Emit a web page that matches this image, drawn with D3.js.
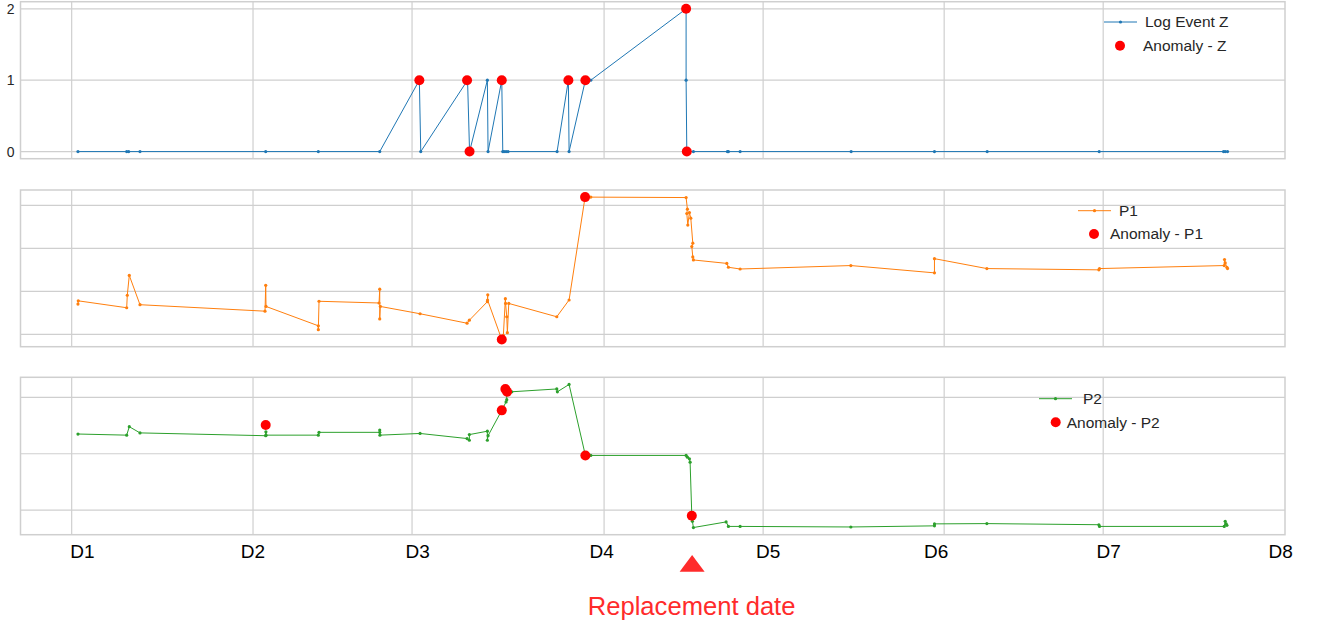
<!DOCTYPE html>
<html>
<head>
<meta charset="utf-8">
<script src="https://cdn.jsdelivr.net/npm/d3@7"></script>
<style>
  body { margin: 0; background: #fff; }
  text { font-family: "Liberation Sans", Arial, sans-serif; }
</style>
</head>
<body>
<div id="chart"></div>
<script>
// x values are days from the start of the record
const gridDays = [10.34, 46.6, 78.4, 116.8, 148.6, 184.8, 216.6];
const dayLabels = ["D1", "D2", "D3", "D4", "D5", "D6", "D7", "D8"];
const dayLabelDays = [12.4, 46.5, 79.4, 116.2, 149.5, 183.1, 217.6, 252];
const replacementDay = 134.4;

// Log Event Z
const zDays = [11.6, 21.34, 21.74, 24, 49.14, 59.66, 71.94, 79.86, 80.14, 89.5, 89.9, 93.46, 93.6, 96.34, 96.54, 96.8, 97.2, 97.6, 107.4, 109.66, 109.8, 113.06, 114.14, 133.2, 133.2, 133.34, 134.66, 141.46, 141.66, 144, 166.2, 182.86, 193.4, 215.8, 240.66, 241, 241.46];
const zValues = [0, 0, 0, 0, 0, 0, 0, 1, 0, 1, 0, 1, 0, 1, 0, 0, 0, 0, 0, 1, 0, 1, 1, 2, 1, 0, 0, 0, 0, 0, 0, 0, 0, 0, 0, 0, 0];
const zAnomDays = [79.86, 89.4, 89.9, 96.34, 109.66, 113.06, 133.2, 133.34];
const zAnomValues = [1, 1, 0, 1, 1, 1, 2, 0];

// P1
const p1Days = [11.6, 11.66, 21.34, 21.46, 21.86, 24, 49, 49.14, 49.2, 59.66, 59.66, 59.8, 71.8, 71.94, 71.94, 72.06, 80, 89.4, 89.86, 93.46, 93.54, 93.5, 96.34, 96.66, 97.06, 97.1, 97.34, 97.46, 97.74, 107.34, 109.8, 113, 114.14, 133.2, 133.46, 133.34, 133.54, 133.86, 134.14, 134.54, 134.34, 134.54, 134.66, 141.34, 141.66, 144, 166.14, 182.86, 182.86, 193.34, 215.74, 215.86, 240.8, 240.86, 241, 241.34, 241.46];
const p1Values = [0.705, 0.78, 0.62, 0.91, 1.37, 0.69, 0.54, 1.14, 0.65, 0.2, 0.11, 0.77, 0.73, 1.05, 0.36, 0.65, 0.48, 0.26, 0.33, 0.76, 0.92, 0.8, -0.12, -0.02, 0.83, 0.72, 0.41, 0.04, 0.72, 0.41, 0.8, 3.19, 3.19, 3.18, 2.91, 2.81, 2.54, 2.83, 2.7, 2.12, 2.04, 1.8, 1.73, 1.65, 1.56, 1.52, 1.6, 1.43, 1.76, 1.53, 1.5, 1.53, 1.6, 1.74, 1.66, 1.56, 1.53];
const p1AnomDays = [96.34, 113];
const p1AnomValues = [-0.12, 3.19];

// P2
const p2Days = [11.6, 21.34, 21.86, 24, 49.14, 49.18, 49.2, 59.66, 59.8, 71.94, 71.94, 71.98, 80, 89.4, 89.86, 89.86, 93.46, 93.46, 93.6, 96.34, 97.2, 97.34, 97.3, 98.34, 107.34, 107.46, 109.8, 113.06, 114.14, 133.2, 133.46, 133.86, 134, 134.34, 134.46, 134.66, 141.2, 141.66, 144, 166.14, 182.86, 182.86, 193.34, 215.74, 215.86, 240.8, 241, 241.2, 241.34];
const p2Values = [1.35, 1.33, 1.48, 1.37, 1.32, 1.39, 1.33, 1.33, 1.38, 1.38, 1.42, 1.33, 1.36, 1.27, 1.24, 1.34, 1.4, 1.24, 1.32, 1.77, 1.92, 1.96, 2.13, 2.1, 2.15, 2.1, 2.23, 0.97, 0.97, 0.97, 0.94, 0.91, 0.85, -0.1, -0.2, -0.31, -0.21, -0.29, -0.29, -0.3, -0.28, -0.245, -0.24, -0.26, -0.29, -0.29, -0.2, -0.245, -0.27];
const p2AnomDays = [49.14, 96.34, 97.06, 97.4, 113.06, 134.34];
const p2AnomValues = [1.51, 1.77, 2.15, 2.1, 0.97, -0.1];

const width = 1322, height = 626;
const left = 20.5, right = 1285;

const panels = [
  { days: zDays, values: zValues, anomDays: zAnomDays, anomValues: zAnomValues,
    color: "#1f77b4", name: "Log Event Z", anomName: "Anomaly - Z",
    ticks: [0, 1, 2], showTicks: true, top: 1.7, bottom: 158.7,
    legend: { lineX: 1104, lineY: 22, textX: 1145, dotX: 1120, dotY: 45.7, anomX: 1143 } },
  { days: p1Days, values: p1Values, anomDays: p1AnomDays, anomValues: p1AnomValues,
    color: "#ff7f0e", name: "P1", anomName: "Anomaly - P1",
    ticks: [0, 1, 2, 3], showTicks: false, top: 190, bottom: 346.7,
    legend: { lineX: 1078, lineY: 210.7, textX: 1119, dotX: 1094, dotY: 234, anomX: 1110 } },
  { days: p2Days, values: p2Values, anomDays: p2AnomDays, anomValues: p2AnomValues,
    color: "#2ca02c", name: "P2", anomName: "Anomaly - P2",
    ticks: [0, 1, 2], showTicks: false, top: 377.3, bottom: 534.7,
    legend: { lineX: 1039, lineY: 398.7, textX: 1083, dotX: 1055.7, dotY: 422.3, anomX: 1066.7 } }
];

// matplotlib style 5% margins
function padded(arr) {
  const [lo, hi] = d3.extent(arr);
  const m = (hi - lo) * 0.05;
  return [lo - m, hi + m];
}

const svg = d3.select("#chart")
  .append("svg")
    .attr("width", width)
    .attr("height", height);

const x = d3.scaleLinear()
  .domain(padded(d3.merge([zDays, p1Days, p2Days])))
  .range([left, right]);

panels.forEach(p => {
  const y = d3.scaleLinear()
    .domain(padded(p.values.concat(p.anomValues)))
    .range([p.bottom, p.top]);

  const g = svg.append("g");

  // grid
  g.selectAll(".vgrid")
    .data(gridDays)
    .enter()
    .append("line")
      .attr("x1", d => x(d))
      .attr("x2", d => x(d))
      .attr("y1", p.top)
      .attr("y2", p.bottom)
      .attr("stroke", "#cfcfcf")
      .attr("stroke-width", 1.2);
  g.selectAll(".hgrid")
    .data(p.ticks)
    .enter()
    .append("line")
      .attr("x1", left)
      .attr("x2", right)
      .attr("y1", d => y(d))
      .attr("y2", d => y(d))
      .attr("stroke", "#cfcfcf")
      .attr("stroke-width", 1.2);

  g.append("rect")
    .attr("x", left)
    .attr("y", p.top)
    .attr("width", right - left)
    .attr("height", p.bottom - p.top)
    .attr("fill", "none")
    .attr("stroke", "#cfcfcf")
    .attr("stroke-width", 1.5);

  if (p.showTicks) {
    const ax = g.append("g")
      .attr("transform", `translate(${left},0)`)
      .call(d3.axisLeft(y).tickValues(p.ticks).tickSize(0).tickPadding(6).tickFormat(d3.format("d")));
    ax.select(".domain").remove();
    ax.selectAll("text").attr("font-size", 14).attr("fill", "#262626")
      .attr("font-family", "Liberation Sans, Arial, sans-serif");
  }

  const pts = p.days.map((d, i) => [d, p.values[i]]);
  const line = d3.line().x(d => x(d[0])).y(d => y(d[1]));

  g.append("path")
    .attr("d", line(pts))
    .attr("fill", "none")
    .attr("stroke", p.color)
    .attr("stroke-width", 1)
    .attr("stroke-linejoin", "round");

  g.selectAll(".pt")
    .data(pts)
    .enter()
    .append("circle")
      .attr("cx", d => x(d[0]))
      .attr("cy", d => y(d[1]))
      .attr("r", 1.6)
      .attr("fill", p.color);

  g.selectAll(".anom")
    .data(p.anomDays.map((d, i) => [d, p.anomValues[i]]))
    .enter()
    .append("circle")
      .attr("cx", d => x(d[0]))
      .attr("cy", d => y(d[1]))
      .attr("r", 5)
      .attr("fill", "red");

  // legend
  const L = p.legend;
  g.append("line")
    .attr("x1", L.lineX).attr("x2", L.lineX + 33)
    .attr("y1", L.lineY).attr("y2", L.lineY)
    .attr("stroke", p.color).attr("stroke-width", 1);
  g.append("circle")
    .attr("cx", L.lineX + 16.5).attr("cy", L.lineY).attr("r", 1.6)
    .attr("fill", p.color);
  g.append("text")
    .attr("x", L.textX).attr("y", L.lineY).attr("dy", "0.35em")
    .attr("font-size", 15.5).attr("fill", "#262626")
    .text(p.name);
  g.append("circle")
    .attr("cx", L.dotX).attr("cy", L.dotY).attr("r", 5)
    .attr("fill", "red");
  g.append("text")
    .attr("x", L.anomX).attr("y", L.dotY).attr("dy", "0.35em")
    .attr("font-size", 15.5).attr("fill", "#262626")
    .text(p.anomName);
});

// D labels under the last panel
const xAxis = svg.append("g")
  .attr("transform", "translate(0,535)")
  .call(d3.axisBottom(x)
    .tickValues(dayLabelDays)
    .tickSize(0)
    .tickPadding(10)
    .tickFormat((d, i) => dayLabels[i]));
xAxis.select(".domain").remove();
xAxis.selectAll("text")
  .attr("font-size", 19)
  .attr("fill", "#000")
  .attr("font-family", "Liberation Sans, Arial, sans-serif");

// replacement marker
const rx = x(replacementDay);
svg.append("path")
  .attr("d", `M${rx},555 L${rx + 12.5},571.7 L${rx - 12.5},571.7 Z`)
  .attr("fill", "#ff2b2b");
svg.append("text")
  .attr("x", rx - 0.5)
  .attr("y", 615)
  .attr("text-anchor", "middle")
  .attr("font-size", 25.6)
  .attr("fill", "#ff2b2b")
  .text("Replacement date");
</script>
</body>
</html>
